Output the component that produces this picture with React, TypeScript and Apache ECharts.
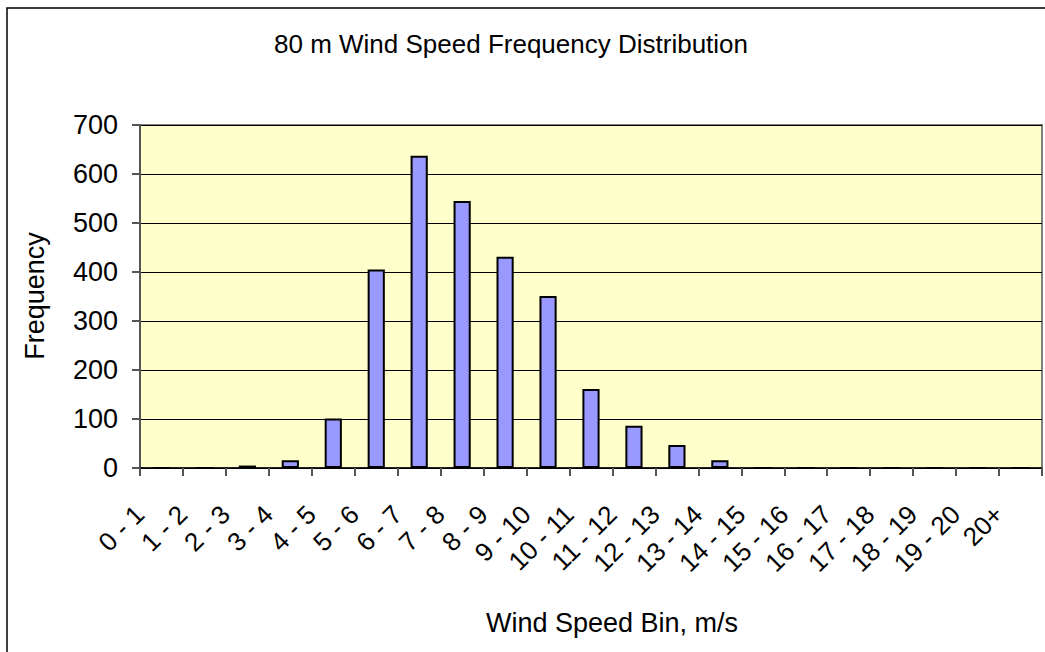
import React, { useEffect, useRef } from "react";
import * as echarts from "echarts";

const categories = [
  "0 - 1", "1 - 2", "2 - 3", "3 - 4", "4 - 5", "5 - 6", "6 - 7", "7 - 8",
  "8 - 9", "9 - 10", "10 - 11", "11 - 12", "12 - 13", "13 - 14", "14 - 15",
  "15 - 16", "16 - 17", "17 - 18", "18 - 19", "19 - 20", "20+",
];
const frequency = [0, 0, 5, 16, 101, 405, 637, 545, 431, 351, 161, 86, 47, 16, 0, 0, 0, 0, 0, 0, 0];
const yTicks = { min: 0, max: 700, interval: 100 };
const titleText = "80 m Wind Speed Frequency Distribution";
const xAxisTitle = "Wind Speed Bin, m/s";
const yAxisTitle = "Frequency";

const FONT = "'Liberation Sans', Arial, sans-serif";

export default function App() {
  const ref = useRef<HTMLDivElement>(null);
  useEffect(() => {
    if (!ref.current) return;
    const chart = echarts.init(ref.current, undefined, { renderer: "svg" });
    chart.setOption({
      animation: false,
      backgroundColor: "#ffffff",
      textStyle: { fontFamily: FONT },
      grid: { left: 140, right: 3, top: 125, bottom: 184, show: true, backgroundColor: "#FFFFCC", borderColor: "#808080", borderWidth: 2 },
      graphic: [
        { type: "rect", shape: { x: 7, y: 8, width: 1200, height: 800 }, style: { fill: "none", stroke: "#000", lineWidth: 1.5 }, z: 100 },
        { type: "text", x: 511, y: 44, style: { text: titleText, font: `26px ${FONT}`, fill: "#000", align: "center", verticalAlign: "middle" } },
        { type: "text", x: 612, y: 623, style: { text: xAxisTitle, font: `27px ${FONT}`, fill: "#000", align: "center", verticalAlign: "middle" } },
        { type: "text", x: 35, y: 296, rotation: Math.PI / 2, style: { text: yAxisTitle, font: `27px ${FONT}`, fill: "#000", align: "center", verticalAlign: "middle" } },
      ],
      xAxis: {
        type: "category",
        data: categories,
        boundaryGap: true,
        axisLine: { lineStyle: { color: "#000", width: 1.5 } },
        axisTick: { show: true, length: 8, alignWithLabel: false, lineStyle: { color: "#555", width: 2 } },
        axisLabel: { interval: 0, rotate: 45, fontSize: 26, color: "#000", margin: 20, padding: [0, 31, 0, 0], fontFamily: FONT },
      },
      yAxis: {
        type: "value",
        min: yTicks.min,
        max: yTicks.max,
        interval: yTicks.interval,
        axisLine: { show: true, lineStyle: { color: "#555", width: 2 } },
        axisTick: { show: true, length: 8, lineStyle: { color: "#555", width: 2 } },
        axisLabel: { fontSize: 27, color: "#000", margin: 22, fontFamily: FONT },
        splitLine: { show: true, lineStyle: { color: "#000", width: 1 } },
      },
      series: [
        {
          type: "bar",
          data: frequency,
          barWidth: "40%",
          itemStyle: { color: "#9999FF", borderColor: "#000", borderWidth: 2 },
        },
      ],
    });
    return () => chart.dispose();
  }, []);
  return <div ref={ref} style={{ position: "absolute", left: 0, top: 0, width: 1045, height: 652 }} />;
}
